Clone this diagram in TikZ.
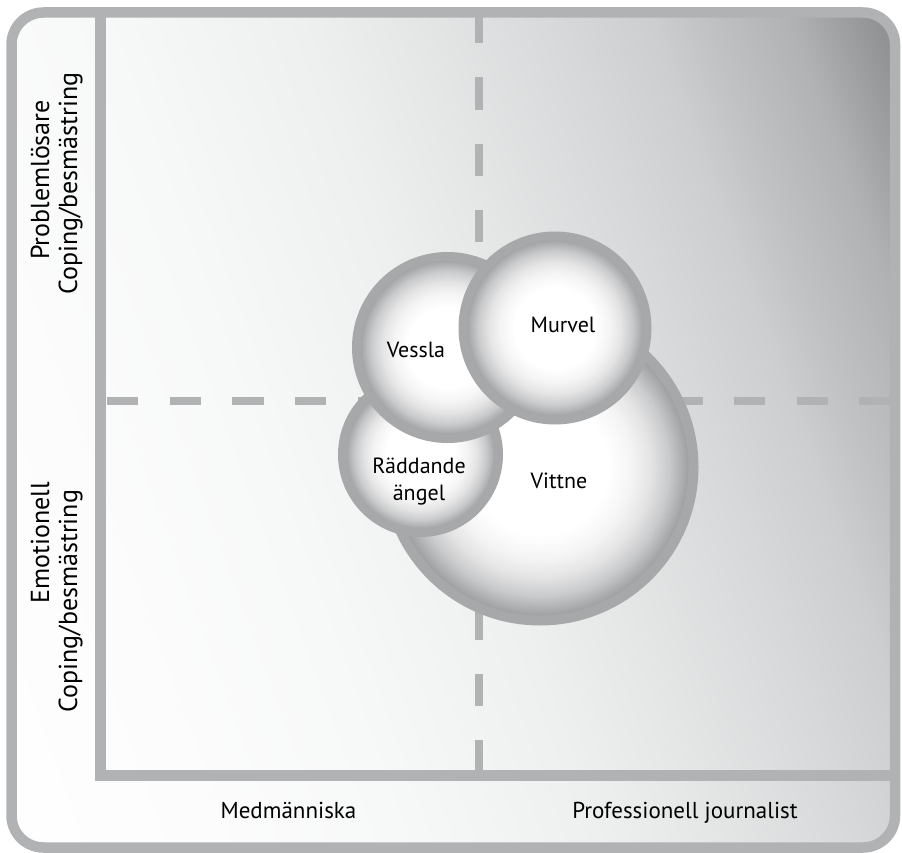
\documentclass[tikz,border=0pt]{standalone}
\usepackage{fontspec}
\setmainfont{PT Sans}
\definecolor{bg1}{HTML}{FCFCFC}
\definecolor{bg2}{HTML}{F7F8F8}
\definecolor{bg3}{HTML}{EEF0F0}
\definecolor{bg4}{HTML}{E6E7E7}
\definecolor{bg5}{HTML}{D8D9DA}
\definecolor{bg6}{HTML}{CDCECF}
\definecolor{bg7}{HTML}{C2C3C5}
\definecolor{bg8}{HTML}{B0B1B3}
\definecolor{bg9}{HTML}{A4A5A7}
\definecolor{bg10}{HTML}{929395}
\definecolor{bg11}{HTML}{8A8B8D}
\definecolor{ball1}{HTML}{F4F4F4}
\definecolor{ball2}{HTML}{E4E4E5}
\definecolor{ball3}{HTML}{C9CACB}
\definecolor{ball4}{HTML}{A8A9AB}
\definecolor{ball5}{HTML}{949597}
\definecolor{framegray}{HTML}{B1B2B4}
\definecolor{ringgray}{HTML}{A7A8AA}
\pgfdeclarehorizontalshading{bgshade}{1500bp}{color(0bp)=(white); color(230bp)=(bg1); color(411bp)=(bg2); color(598bp)=(bg3); color(691bp)=(bg4); color(832bp)=(bg5); color(925bp)=(bg6); color(972bp)=(bg7); color(1061bp)=(bg8); color(1089bp)=(bg9); color(1136bp)=(bg10); color(1170bp)=(bg11); color(1200bp)=(bg11)}
\pgfdeclareradialshading{ballshade}{\pgfpoint{0bp}{0bp}}{color(0bp)=(white); color(11bp)=(white); color(15bp)=(ball1); color(18bp)=(ball2); color(21bp)=(ball3); color(23.5bp)=(ball4); color(25bp)=(ball5); color(50bp)=(ball5)}
\tikzset{
  axisline/.style={draw=framegray, line width=11pt},
  dashline/.style={draw=framegray, line width=8pt},
  bubble/.style={circle, draw=ringgray, line width=9pt, shade, shading=ballshade, inner sep=0pt, outer sep=0pt},
  bubbletext/.style={font=\fontsize{22}{27}\selectfont, inner sep=0pt, align=center},
  axistext/.style={font=\fontsize{23}{27}\selectfont, inner sep=0pt, anchor=base},
  sidetext/.style={font=\fontsize{26}{30}\selectfont, inner sep=0pt, anchor=base, rotate=90}
}
\begin{document}
\begin{tikzpicture}[x=1pt, y=-1pt]
\useasboundingbox (0,0) rectangle (902,853);
% background gradient
\begin{scope}
  \clip[rounded corners=32pt] (11.5,12.5) rectangle (895,847.5);
  \node[inner sep=0pt, outer sep=0pt, rotate=20] (bgshading) at (451,427.5) {\pgfuseshading{bgshade}};
\end{scope}
% dashed quadrant lines
\coordinate (vtop) at (479,11);
\coordinate (vbot) at (479,770);
\coordinate (hleft) at (107,400.5);
\coordinate (hright) at (890,400.5);
\draw[dashline, dash pattern=on 32.3pt off 34pt] (vtop) -- (vbot);
\draw[dashline, dash pattern=on 31.3pt off 31.4pt] (hleft) -- (hright);
% axes
\coordinate (ytop) at (100.5,12);
\coordinate (origin) at (100.5,781);
\coordinate (xleft) at (95,775.5);
\coordinate (xright) at (895,775.5);
\draw[axisline] (ytop) -- (origin);
\draw[axisline] (xleft) -- (xright);
% outer frame
\draw[draw=framegray, line width=10.5pt, rounded corners=32pt] (11.5,12.5) rectangle (895,847.5);
% bubbles
\node[bubble, line width=10pt, minimum size=307pt] (cVittne) at (540,467) {};
\node[bubble, minimum size=156pt] (cRaddande) at (420.5,454.5) {};
\node[bubble, minimum size=182pt] (cVessla) at (447.5,347.5) {};
\node[bubble, minimum size=184pt] (cMurvel) at (555,328) {};
% bubble labels
\node[bubbletext, anchor=base] (tVessla) at (416,357) {Vessla};
\node[bubbletext, anchor=base] (tMurvel) at (563,332) {Murvel};
\node[bubbletext] (tRaddande) at (419,482) {Räddande\\ängel};
\node[bubbletext, anchor=base] (tVittne) at (559,488) {Vittne};
% axis labels
\node[axistext] (xMed) at (288.5,818) {Medmänniska};
\node[axistext] (xProf) at (685,818) {Professionell journalist};
\node[sidetext] (yProb) at (49,180) {Problemlösare};
\node[sidetext] (yCop1) at (77,183.5) {Coping/besmästring};
\node[sidetext] (yEmo) at (49,543) {Emotionell};
\node[sidetext] (yCop2) at (77,601) {Coping/besmästring};
\end{tikzpicture}
\end{document}
